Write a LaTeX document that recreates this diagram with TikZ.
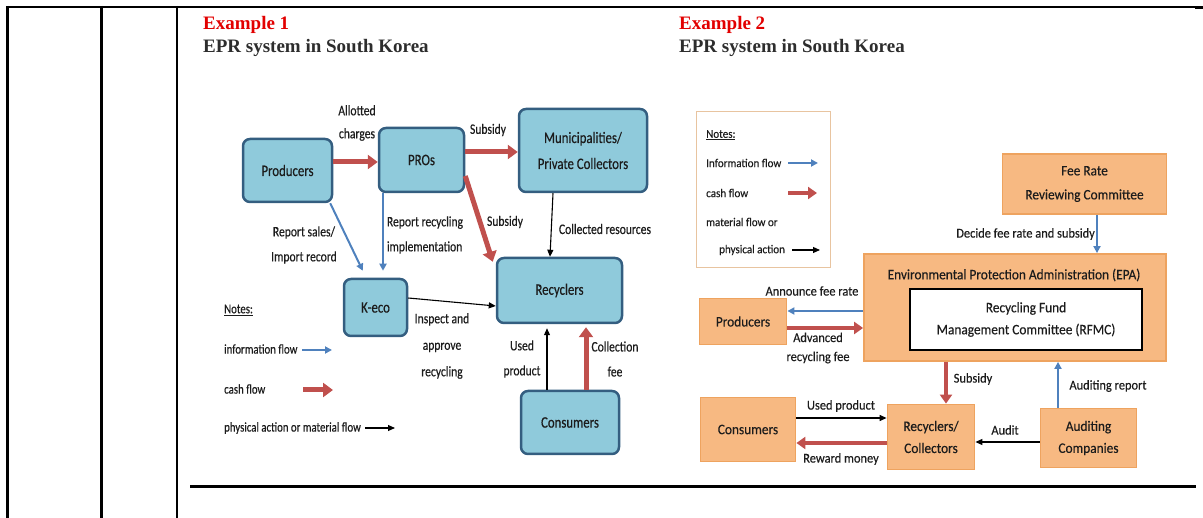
\documentclass[tikz,border=0pt]{standalone}
\usepackage{fontspec}
\setmainfont{Liberation Serif}
\newfontfamily\cfA[FakeStretch=0.8,FakeBold=0.35]{Carlito}
\newfontfamily\cfB[FakeStretch=0.92,FakeBold=0.3]{Carlito}
\usetikzlibrary{arrows.meta}
\definecolor{boxblue}{RGB}{143,202,219}
\definecolor{boxblueline}{RGB}{52,94,128}
\definecolor{boxor}{RGB}{247,185,130}
\definecolor{boxorline}{RGB}{238,163,95}
\definecolor{notesline}{RGB}{232,196,160}
\definecolor{cashred}{RGB}{192,80,77}
\definecolor{infoblue}{RGB}{79,129,189}
\definecolor{titlered}{RGB}{226,0,0}
\definecolor{txt}{RGB}{28,28,28}
\definecolor{ttltxt}{RGB}{45,45,45}
\begin{document}
\begin{tikzpicture}[x=1pt,y=-1pt,
  bbox/.style={draw=boxblueline, line width=2.5pt, fill=boxblue, rounded corners=7pt, text=txt,
    font=\cfA\fontsize{16}{26}\selectfont, align=center, inner sep=0pt},
  obox/.style={draw=boxorline, line width=1.8pt, fill=boxor, text=txt,
    font=\cfB\fontsize{14.5}{22}\selectfont, align=center, inner sep=0pt},
  lab1/.style={text=txt, font=\cfA\fontsize{14.5}{25}\selectfont, align=center, inner sep=0pt},
  leg1/.style={text=txt, font=\cfA\fontsize{13.5}{16}\selectfont, inner sep=0pt, anchor=west},
  lab2/.style={text=txt, font=\cfB\fontsize{13.5}{19}\selectfont, align=center, inner sep=0pt},
  leg2/.style={text=txt, font=\cfB\fontsize{12}{14}\selectfont, inner sep=0pt, anchor=west},
  cash/.style={draw=cashred, line width=5pt, -{Triangle[length=10pt,width=14pt]}},
  cashb/.style={draw=cashred, line width=4.5pt, -{Triangle[length=9pt,width=12pt]}},
  info/.style={draw=infoblue, line width=2pt, -{Triangle[length=7pt,width=7pt]}},
  mat/.style={draw=black, line width=1.1pt, -{Triangle[length=7pt,width=6pt]}},
  rule/.style={draw=black, line width=2.2pt},
  ttl/.style={anchor=base west, inner sep=0pt, font=\bfseries\fontsize{19}{22}\selectfont}
]
\useasboundingbox (0,0) rectangle (1203,518);
% table rules
\draw[rule] (7,7) -- (1197,7);
\draw[draw=black, line width=2.7pt] (1195,7.6) -- (1203,7.6);
\draw[rule] (7.5,6) -- (7.5,518);
\draw[rule] (101.5,6) -- (101.5,518);
\draw[rule] (176.7,6) -- (176.7,518);
\draw[draw=black, line width=3pt] (190,487) -- (1196,487);

% titles
\node[ttl, text=titlered] (t1) at (203,30) {Example 1};
\node[ttl, text=ttltxt] (t1b) at (203,53) {EPR system in South Korea};
\node[ttl, text=titlered] (t2) at (679,30) {Example 2};
\node[ttl, text=ttltxt] (t2b) at (679,53) {EPR system in South Korea};

% ---------------- Example 1 ----------------
\node[bbox, minimum width=89pt, minimum height=63pt] (prod) at (287.5,170.5) {Producers};
\node[bbox, minimum width=85pt, minimum height=64pt] (pros) at (421.5,160) {PROs};
\node[bbox, minimum width=128pt, minimum height=83pt] (muni) at (583,150.5) {Municipalities/\\Private Collectors};
\node[bbox, minimum width=125pt, minimum height=65pt] (recy) at (559.5,290.5) {Recyclers};
\node[bbox, minimum width=63pt, minimum height=57pt] (keco) at (375.5,307.5) {K-eco};
\node[bbox, minimum width=98pt, minimum height=63pt] (cons) at (570,422.5) {Consumers};

\draw[cash] ([yshift=8.5pt]prod.east) -- ([yshift=-2pt]pros.west);
\draw[cash] ([yshift=8pt]pros.east) -- ([yshift=-1.5pt]muni.west);
\draw[cash] ([yshift=-16pt]pros.east) -- ([xshift=-3pt,yshift=-5pt]recy.north west);
\draw[mat] ([xshift=-30pt]muni.south) -- ([xshift=-9.5pt]recy.north);
\draw[info] ([xshift=-3pt]prod.south east) -- ([xshift=20pt,yshift=7pt]keco.north west);
\draw[info] ([xshift=-38.5pt]pros.south) -- ([xshift=7.5pt,yshift=7pt]keco.north);
\draw[mat] ([yshift=9.5pt]keco.east) -- ([yshift=-15.5pt]recy.west);
\draw[mat] ([xshift=-23pt]cons.north) -- ([xshift=-12.5pt,yshift=-4pt]recy.south);
\draw[cash] ([xshift=16pt]cons.north) -- ([xshift=26.5pt,yshift=-3pt]recy.south);

\node[lab1, font=\cfA\fontsize{14.5}{23}\selectfont] (l_allot) at (357,123) {Allotted\\charges};
\node[lab1] (l_sub1) at (488,130) {Subsidy};
\node[lab1] (l_sub2) at (505,222) {Subsidy};
\node[lab1] (l_coll) at (605,229) {Collected resources};
\node[lab1] (l_rep) at (304,245) {Report sales/\\Import record};
\node[lab1, align=left] (l_recimp) at (425,235) {Report recycling\\implementation};
\node[lab1, font=\cfA\fontsize{14.5}{26.5}\selectfont] (l_insp) at (442,346) {Inspect and\\approve\\recycling};
\node[lab1] (l_used) at (522,359) {Used\\product};
\node[lab1] (l_cfee) at (615,359) {Collection\\fee};

% legend 1
\node[leg1] (n1) at (224,310) {\underline{Notes:}};
\node[leg1] (n1i) at (224,349) {information flow};
\node[leg1] (n1c) at (224,389) {cash flow};
\node[leg1] (n1m) at (224,428) {physical action or material flow};
\coordinate (a1i) at (302,350); \coordinate (b1i) at (332,350);
\coordinate (a1c) at (303,390); \coordinate (b1c) at (333,390);
\coordinate (a1m) at (365,428); \coordinate (b1m) at (395,428);
\draw[info] (a1i) -- (b1i);
\draw[cash] (a1c) -- (b1c);
\draw[mat] (a1m) -- (b1m);

% ---------------- Example 2 ----------------
\node[draw=notesline, line width=1.4pt, minimum width=134pt, minimum height=156pt, inner sep=0pt] (notes2) at (763.5,189.5) {};
\node[leg2] (n2) at (706,135) {\underline{Notes:}};
\node[leg2] (n2i) at (706,163) {Information flow};
\node[leg2] (n2c) at (706,193) {cash flow};
\node[leg2] (n2m) at (706,222) {material flow or};
\node[leg2] (n2p) at (719,250) {physical action};
\coordinate (a2i) at (788,163); \coordinate (b2i) at (818,163);
\coordinate (a2c) at (788,193); \coordinate (b2c) at (817,193);
\coordinate (a2m) at (792,250); \coordinate (b2m) at (820,250);
\draw[info] (a2i) -- (b2i);
\draw[cashb] (a2c) -- (b2c);
\draw[mat] (a2m) -- (b2m);

\node[obox, minimum width=164pt, minimum height=60pt, font=\cfB\fontsize{14.5}{24}\selectfont] (fee) at (1084.5,184) {Fee Rate\\Reviewing Committee};
\node[obox, minimum width=302pt, minimum height=107pt] (epa) at (1015,307.5) {};
\node[text=txt, font=\cfB\fontsize{14.5}{17}\selectfont, inner sep=0pt] (epat) at (1014,275) {Environmental Protection Administration (EPA)};
\node[draw=black, line width=2pt, fill=white, minimum width=232pt, minimum height=61pt, text=txt,
  font=\cfB\fontsize{14.5}{22}\selectfont, align=center, inner sep=0pt] (rfmc) at (1026,319.5) {Recycling Fund\\Management Committee (RFMC)};
\node[obox, minimum width=87pt, minimum height=46pt] (prod2) at (743,321.5) {Producers};
\node[obox, minimum width=95pt, minimum height=64pt] (cons2) at (748,429.5) {Consumers};
\node[obox, minimum width=87pt, minimum height=65pt] (recy2) at (931,437) {Recyclers/\\Collectors};
\node[obox, minimum width=96pt, minimum height=59pt] (audit) at (1088.5,438) {Auditing\\Companies};

\draw[info] ([xshift=12.5pt]fee.south) -- ([xshift=82pt]epa.north);
\draw[info] ([yshift=-3.5pt]epa.west) -- ([yshift=10.5pt]prod2.east);
\draw[cashb] ([yshift=-6.5pt]prod2.east) -- ([yshift=-20.5pt]epa.west);
\draw[cashb] ([xshift=-69pt]epa.south) -- ([xshift=15pt]recy2.north);
\draw[info] ([xshift=-30.5pt]audit.north) -- ([xshift=43pt]epa.south);
\draw[mat] ([yshift=11.5pt]cons2.east) -- ([yshift=19pt]recy2.west);
\draw[cashb] ([yshift=-6pt]recy2.west) -- ([yshift=-13.5pt]cons2.east);
\draw[mat] ([yshift=-4pt]audit.west) -- ([yshift=-5pt]recy2.east);

\node[lab2, anchor=east] (l_dec) at (1095,234) {Decide fee rate and subsidy};
\node[lab2] (l_ann) at (812,291) {Announce fee rate};
\node[lab2] (l_adv) at (818,348) {Advanced\\recycling fee};
\node[lab2] (l_sub3) at (973,379) {Subsidy};
\node[lab2] (l_audr) at (1108,386) {Auditing report};
\node[lab2] (l_used2) at (841,406) {Used product};
\node[lab2] (l_rew) at (841,459) {Reward money};
\node[lab2] (l_aud) at (1005,430) {Audit};
\end{tikzpicture}
\end{document}
